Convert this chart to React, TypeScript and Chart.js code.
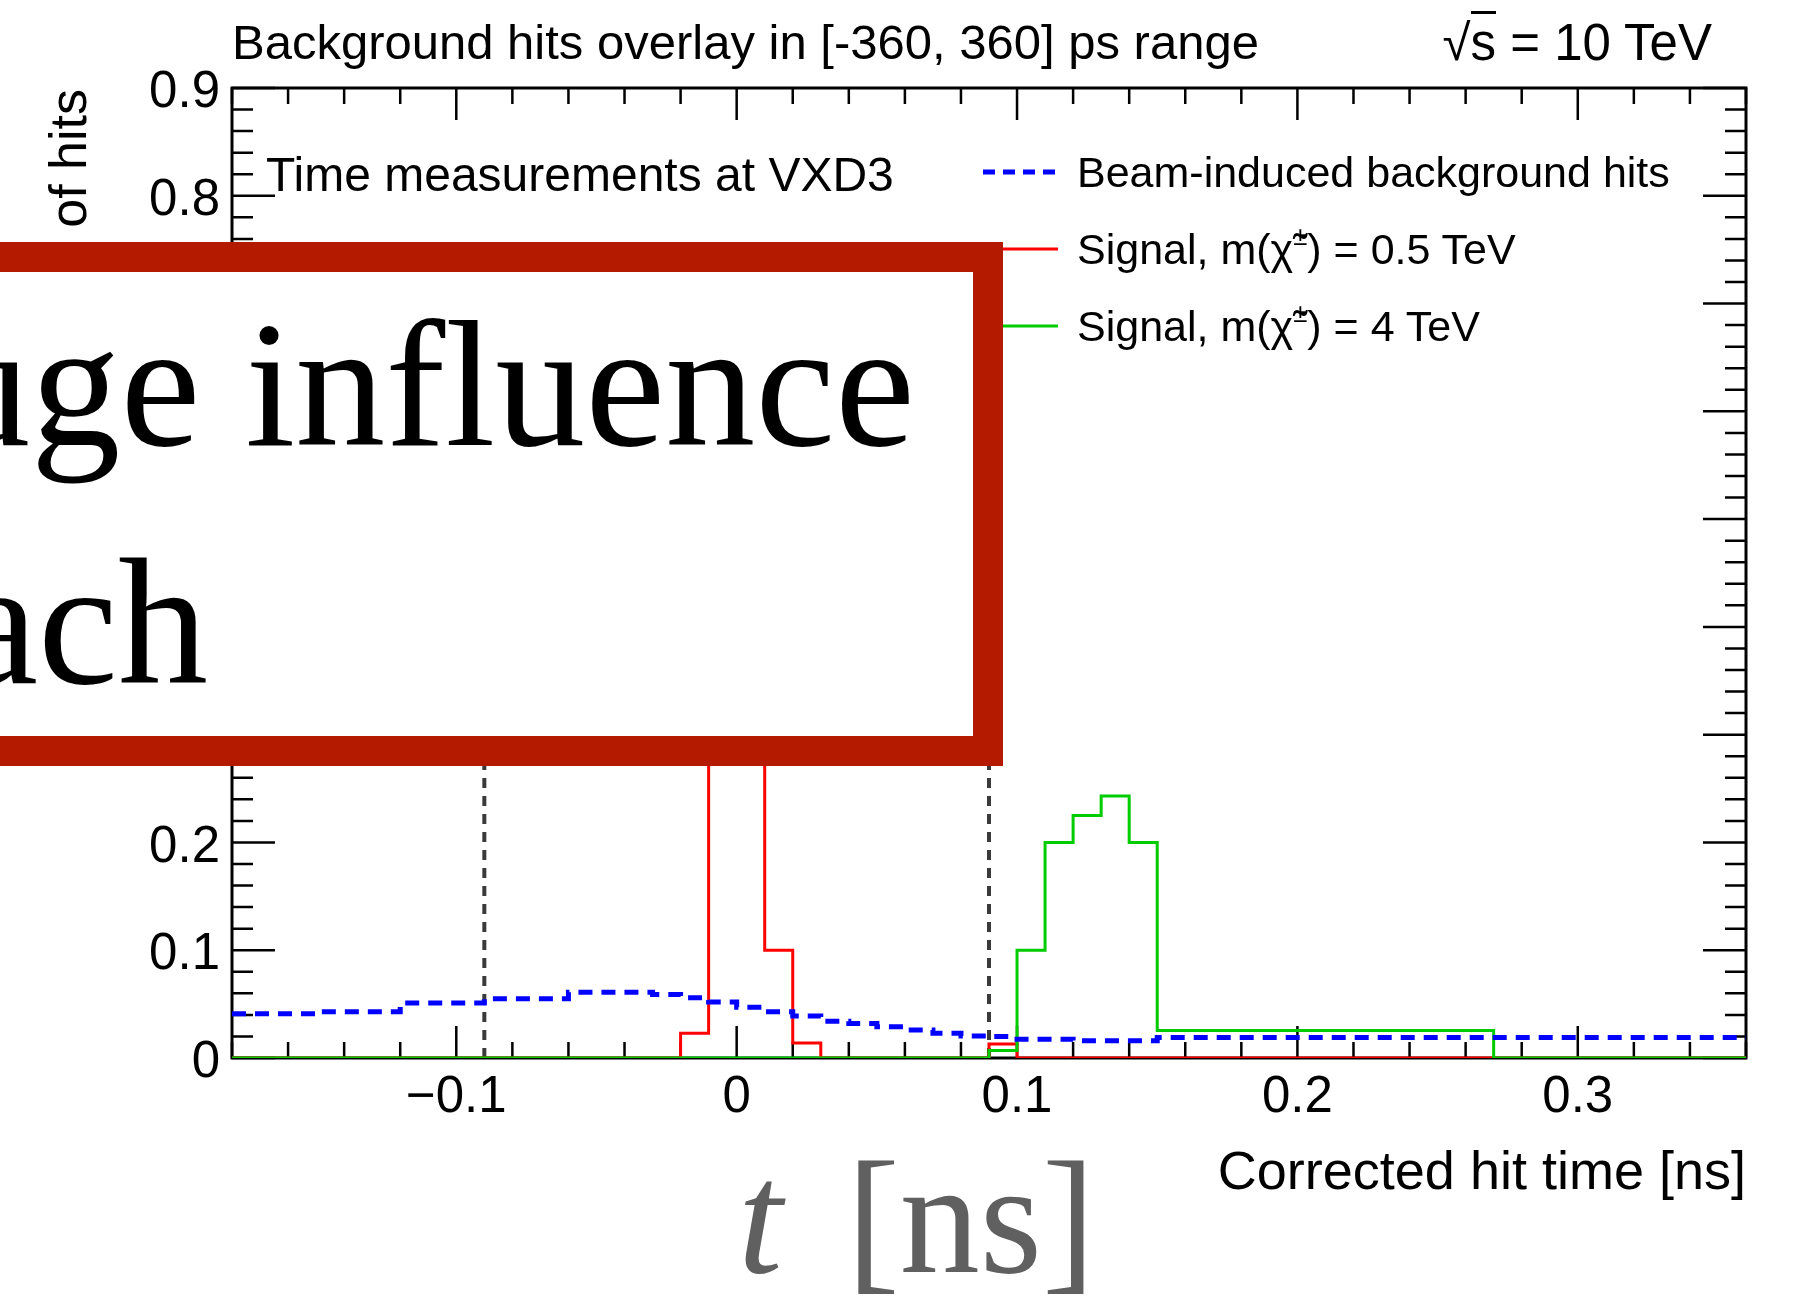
import React, { useEffect, useRef } from 'react';
import { Chart, registerables } from 'chart.js';

Chart.register(...registerables);

// ---- data ----
const bgEdges = [-0.18, -0.15, -0.12, -0.09, -0.06, -0.03, -0.02, -0.01, 0, 0.01, 0.02, 0.03, 0.04, 0.05, 0.06, 0.07, 0.08, 0.09, 0.1, 0.12, 0.15, 0.36];
const bgValues = [0.041, 0.043, 0.051, 0.055, 0.061, 0.059, 0.056, 0.052, 0.047, 0.043, 0.039, 0.034, 0.032, 0.029, 0.026, 0.023, 0.0205, 0.02, 0.0175, 0.016, 0.019];

const sig05Edges = [-0.18, -0.02, -0.01, 0, 0.01, 0.02, 0.03, 0.09, 0.1, 0.36];
const sig05Values = [0, 0.023, 0.45, 0.41, 0.1, 0.014, 0, 0.013, 0];

const sig4Edges = [-0.18, 0.09, 0.1, 0.11, 0.12, 0.13, 0.14, 0.15, 0.27, 0.36];
const sig4Values = [0, 0.007, 0.1, 0.2, 0.225, 0.243, 0.2, 0.0255, 0];

const cutLines = [-0.09, 0.09];
const cutLineTop = 0.65;

const xRange = [-0.18, 0.36];
const yRange = [0, 0.9];
const xTickValues = [-0.1, 0, 0.1, 0.2, 0.3];
const xTickLabels = ['\u22120.1', '0', '0.1', '0.2', '0.3'];
const yTickValues = [0, 0.1, 0.2, 0.3, 0.4, 0.5, 0.6, 0.7, 0.8, 0.9];
const yTickLabels = ['0', '0.1', '0.2', '0.3', '0.4', '0.5', '0.6', '0.7', '0.8', '0.9'];
const minorStep = 0.02;

const SANS = '"Liberation Sans", Arial, Helvetica, sans-serif';
const SERIF = '"Liberation Serif", "Times New Roman", serif';

// histogram outline: bin i spans [edge_i, edge_i+1]; each point carries the value of the bin ending at it
function toSteps(edges: number[], values: number[]) {
  return edges.map((x, i) => ({ x, y: i === 0 ? values[0] : values[i - 1] }));
}

const frameTicks = {
  id: 'frameTicks',
  beforeDatasetsDraw(chart: any) {
    const { ctx, chartArea: a, scales } = chart;
    const xs = scales.x;
    const ys = scales.y;
    ctx.save();
    ctx.strokeStyle = '#000';
    ctx.lineWidth = 2.5;
    ctx.beginPath();
    const kx0 = Math.ceil(xs.min / minorStep - 1e-6);
    const kx1 = Math.floor(xs.max / minorStep + 1e-6);
    for (let k = kx0; k <= kx1; k++) {
      const px = xs.getPixelForValue(k * minorStep);
      const len = k % 5 === 0 ? 32 : 16;
      ctx.moveTo(px, a.bottom);
      ctx.lineTo(px, a.bottom - len);
      ctx.moveTo(px, a.top);
      ctx.lineTo(px, a.top + len);
    }
    const ky0 = Math.ceil(ys.min / minorStep - 1e-6);
    const ky1 = Math.floor(ys.max / minorStep + 1e-6);
    for (let k = ky0; k <= ky1; k++) {
      const py = ys.getPixelForValue(k * minorStep);
      const len = k % 5 === 0 ? 43 : 21;
      ctx.moveTo(a.left, py);
      ctx.lineTo(a.left + len, py);
      ctx.moveTo(a.right, py);
      ctx.lineTo(a.right - len, py);
    }
    ctx.stroke();
    ctx.lineWidth = 3;
    ctx.strokeRect(a.left, a.top, a.right - a.left, a.bottom - a.top);
    ctx.restore();
  },
};

export default function App() {
  const ref = useRef<HTMLCanvasElement>(null);

  useEffect(() => {
    document.body.style.margin = '0';
    const canvas = ref.current;
    if (!canvas) return;
    const chart = new Chart(canvas, {
      type: 'line',
      data: {
        datasets: [
          {
            label: 'Beam-induced background hits',
            data: toSteps(bgEdges, bgValues),
            stepped: 'after',
            borderColor: '#0000ff',
            borderWidth: 5,
            borderDash: [14, 9],
            pointRadius: 0,
            fill: false,
            order: 0,
          },
          {
            label: 'Signal, m = 4 TeV',
            data: toSteps(sig4Edges, sig4Values),
            stepped: 'after',
            borderColor: '#00cc00',
            borderWidth: 3,
            pointRadius: 0,
            fill: false,
            order: 1,
          },
          {
            label: 'Signal, m = 0.5 TeV',
            data: toSteps(sig05Edges, sig05Values),
            stepped: 'after',
            borderColor: '#ff0000',
            borderWidth: 3,
            pointRadius: 0,
            fill: false,
            order: 2,
          },
          ...cutLines.map((c) => ({
            label: 'cut ' + c,
            data: [
              { x: c, y: 0 },
              { x: c, y: cutLineTop },
            ],
            borderColor: '#3a3a3a',
            borderWidth: 4,
            borderDash: [10, 8],
            pointRadius: 0,
            fill: false,
            order: 3,
          })),
        ],
      },
      options: {
        responsive: false,
        devicePixelRatio: 1,
        animation: false,
        layout: { padding: { left: 0, right: 47, top: 88, bottom: 0 } },
        plugins: {
          legend: { display: false },
          tooltip: { enabled: false },
          title: { display: false },
        },
        scales: {
          x: {
            type: 'linear',
            min: xRange[0],
            max: xRange[1],
            grid: { display: false, drawTicks: false },
            border: { display: false },
            afterFit: (s: any) => {
              s.height = 248;
            },
            afterBuildTicks: (s: any) => {
              s.ticks = xTickValues.map((v) => ({ value: v }));
            },
            ticks: {
              padding: 9,
              color: '#000',
              font: { family: SANS, size: 51 },
              maxRotation: 0,
              autoSkip: false,
              callback: (_v: any, i: number) => xTickLabels[i],
            },
          },
          y: {
            type: 'linear',
            min: yRange[0],
            max: yRange[1],
            grid: { display: false, drawTicks: false },
            border: { display: false },
            afterFit: (s: any) => {
              s.width = 232;
            },
            afterBuildTicks: (s: any) => {
              s.ticks = yTickValues.map((v) => ({ value: v }));
            },
            ticks: {
              padding: 12,
              labelOffset: 5,
              color: '#000',
              font: { family: SANS, size: 51 },
              autoSkip: false,
              callback: (_v: any, i: number) => yTickLabels[i],
            },
          },
        },
      },
      plugins: [frameTicks],
    } as any);
    return () => chart.destroy();
  }, []);

  const abs = (o: React.CSSProperties): React.CSSProperties => ({
    position: 'absolute',
    whiteSpace: 'nowrap',
    lineHeight: 1,
    ...o,
  });

  const sup: React.CSSProperties = { fontSize: '0.6em', verticalAlign: '0.75em', lineHeight: 0 };

  return (
    <div
      style={{
        position: 'fixed',
        left: 0,
        top: 0,
        width: 1793,
        height: 1306,
        overflow: 'hidden',
        background: '#fff',
      }}
    >
      <canvas ref={ref} width={1793} height={1306} style={{ position: 'absolute', left: 0, top: 0, display: 'block' }} />

      {/* header */}
      <div style={abs({ left: 232, top: 18, fontFamily: SANS, fontSize: 49, color: '#000' })}>
        Background hits overlay in [-360, 360] ps range
      </div>
      <div style={abs({ right: 81, top: 17, fontFamily: SANS, fontSize: 51, color: '#000' })}>
        {'\u221A'}
        <span style={{ borderTop: '3px solid #000' }}>s</span> = 10 TeV
      </div>

      {/* y title */}
      <div
        style={abs({
          left: 42,
          top: 689,
          width: 600,
          textAlign: 'right',
          transformOrigin: '0 0',
          transform: 'rotate(-90deg)',
          fontFamily: SANS,
          fontSize: 52,
          color: '#000',
        })}
      >
        Fraction of hits
      </div>

      {/* x title */}
      <div style={abs({ right: 47, top: 1143, fontFamily: SANS, fontSize: 54, color: '#000' })}>
        Corrected hit time [ns]
      </div>

      {/* in-plot label */}
      <div style={abs({ left: 266, top: 151, fontFamily: SANS, fontSize: 48, color: '#000' })}>
        Time measurements at VXD3
      </div>

      {/* legend */}
      <svg width={1793} height={400} style={{ position: 'absolute', left: 0, top: 0 }}>
        <line x1={983} y1={172} x2={1058} y2={172} stroke="#0000ff" strokeWidth={5} strokeDasharray="12 8" />
        <line x1={983} y1={249} x2={1058} y2={249} stroke="#ff0000" strokeWidth={3} />
        <line x1={983} y1={326} x2={1058} y2={326} stroke="#00cc00" strokeWidth={3} />
      </svg>
      <div style={abs({ left: 1077, top: 151, fontFamily: SANS, fontSize: 43, color: '#000' })}>
        Beam-induced background hits
      </div>
      <div style={abs({ left: 1077, top: 228, fontFamily: SANS, fontSize: 43, color: '#000' })}>
        Signal, m({'\u03C7\u0303'}
        <span style={sup}>±</span>) = 0.5 TeV
      </div>
      <div style={abs({ left: 1077, top: 305, fontFamily: SANS, fontSize: 43, color: '#000' })}>
        Signal, m({'\u03C7\u0303'}
        <span style={sup}>±</span>) = 4 TeV
      </div>

      {/* overlay box */}
      <div
        style={{
          position: 'absolute',
          left: -80,
          top: 242,
          width: 1083,
          height: 524,
          boxSizing: 'border-box',
          border: '30px solid #b31a00',
          background: '#fff',
        }}
      />
      <div style={abs({ left: -485, top: 295, width: 1400, textAlign: 'right', fontFamily: SERIF, fontSize: 180, color: '#000' })}>
        uge influence
      </div>
      <div style={abs({ left: -1192, top: 533, width: 1400, textAlign: 'right', fontFamily: SERIF, fontSize: 180, color: '#000' })}>
        ach
      </div>

      {/* bottom math label */}
      <div style={abs({ left: 738, top: 1138, fontFamily: SERIF, fontSize: 160, color: '#606060' })}>
        <i>t</i>
        <span style={{ marginLeft: '0.4em' }}>[ns]</span>
      </div>
    </div>
  );
}
